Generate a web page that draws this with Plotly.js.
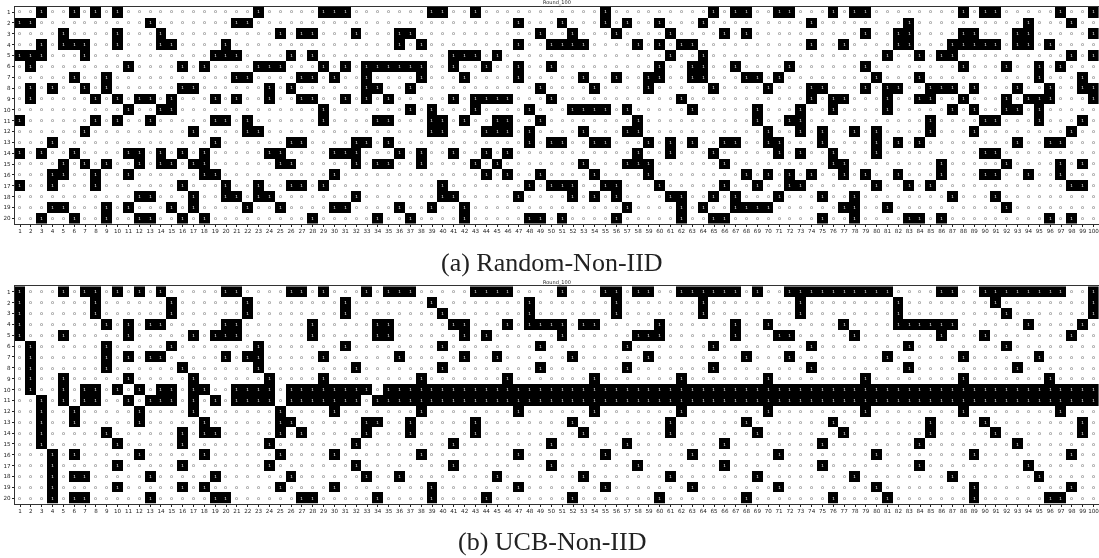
<!DOCTYPE html>
<html>
<head>
<meta charset="utf-8">
<script src="https://cdn.plot.ly/plotly-3.0.1.min.js"></script>
<style>html,body{margin:0;padding:0;background:#fff}#chart{width:1099px;height:558px;filter:blur(0.4px)}</style>
</head>
<body>
<div id="chart"></div>
<script>
// Rounds (columns) in which each client (row) was selected.
const rounds = [1,2,3,4,5,6,7,8,9,10,11,12,13,14,15,16,17,18,19,20,21,22,23,24,25,26,27,28,29,30,31,32,33,34,35,36,37,38,39,40,41,42,43,44,45,46,47,48,49,50,51,52,53,54,55,56,57,58,59,60,61,62,63,64,65,66,67,68,69,70,71,72,73,74,75,76,77,78,79,80,81,82,83,84,85,86,87,88,89,90,91,92,93,94,95,96,97,98,99,100];
const clients = [1,2,3,4,5,6,7,8,9,10,11,12,13,14,15,16,17,18,19,20];

const selectedRandom = [
 [3,6,8,10,23,29,30,31,39,40,43,55,65,67,68,71,72,76,78,79,88,90,91,97,100],
 [1,2,13,21,22,47,51,55,57,60,64,74,83,94,98],
 [5,10,14,25,27,28,32,36,37,49,52,56,61,66,68,79,82,83,88,89,93,94,100],
 [3,5,6,7,10,14,15,20,36,38,47,50,51,52,53,58,60,62,63,74,77,82,83,87,88,89,90,91,93,94,96],
 [1,2,3,7,19,20,21,26,28,41,42,43,45,61,64,81,84,86,87,98,100],
 [2,11,16,18,23,24,25,29,31,33,34,35,36,37,38,41,44,47,50,60,63,64,67,72,79,88,92,95,97],
 [6,9,21,22,27,28,30,33,38,42,47,53,56,59,60,63,64,68,69,71,80,84,95,99],
 [2,4,7,9,16,17,24,26,33,34,37,49,54,59,65,70,74,75,79,81,82,85,86,87,89,93,96,99,100],
 [2,8,10,12,13,15,19,21,24,27,28,31,33,35,41,43,44,45,46,50,62,74,76,77,81,84,85,88,92,94,95,96,100],
 [11,14,15,29,37,39,43,48,52,53,54,55,57,63,69,73,76,81,87,89,92,93,95],
 [1,8,10,13,19,20,22,29,34,35,39,40,42,45,46,49,58,69,72,73,85,90,91,95,99],
 [7,17,22,23,39,40,44,45,46,48,53,57,58,70,73,75,78,80,85,89,98],
 [4,19,26,27,32,33,35,48,50,51,54,55,59,61,63,66,67,70,71,75,80,82,84,93,96,97],
 [1,3,6,11,12,14,16,18,24,25,30,31,32,36,38,41,44,46,58,61,65,71,73,76,80,90,91],
 [5,7,9,12,14,15,17,18,25,26,32,34,35,38,43,45,53,57,58,59,66,76,77,86,92,97,99],
 [4,5,8,11,18,19,30,44,46,49,54,59,68,70,72,74,77,79,82,86,90,91,94,97],
 [1,4,8,16,20,23,26,27,29,40,48,50,51,52,55,56,60,66,69,72,73,80,83,85,98,99],
 [12,13,17,20,21,23,24,32,40,41,47,52,54,56,61,62,65,67,71,75,78,87,91],
 [4,5,9,11,15,17,22,25,30,31,36,39,42,57,62,64,67,68,69,70,77,78,81,92],
 [3,6,9,12,13,16,18,28,34,37,42,48,49,51,56,62,65,66,75,78,83,84,86,96,98]
];

const selectedUCB = [
 [1,5,7,8,10,12,14,20,21,26,27,29,33,35,36,37,43,44,45,46,51,55,56,58,59,62,63,64,65,66,67,69,72,73,74,75,76,77,78,79,80,81,86,87,90,91,92,93,94,95,96,97,100],
 [1,8,15,22,31,39,48,56,64,73,82,91,100],
 [1,8,15,22,31,40,48,56,64,73,82,92,100],
 [1,9,11,13,14,20,21,28,34,35,41,42,46,48,49,50,51,53,54,60,67,70,77,82,83,84,85,86,87,94,99],
 [1,5,11,17,19,20,21,28,34,35,42,44,51,58,59,60,67,71,72,78,86,90,98],
 [2,9,15,23,31,40,49,57,65,74,83,92],
 [2,9,11,13,14,20,22,23,29,36,42,45,52,59,68,72,81,88,95],
 [2,9,16,23,32,40,49,57,65,74,83,93],
 [2,5,11,17,24,29,38,46,54,62,70,79,88,96],
 [2,5,7,8,10,12,14,15,17,18,21,22,23,24,26,27,28,29,30,31,32,33,35,36,37,38,39,40,41,42,43,44,45,46,47,48,49,50,51,52,53,54,55,56,57,58,59,60,61,62,63,64,65,66,67,68,69,70,71,72,73,74,75,76,77,78,79,80,81,82,83,84,85,86,87,88,89,90,91,92,93,94,95,96,97,98,99,100],
 [3,5,7,8,11,13,14,15,17,19,21,22,23,24,26,27,28,29,30,31,32,34,35,36,37,38,39,40,41,42,43,44,45,46,47,48,49,50,51,52,53,54,55,56,57,58,59,60,61,62,63,64,65,66,67,68,69,70,71,72,73,74,75,76,77,78,79,80,81,82,83,84,85,86,87,88,89,90,91,92,93,94,95,96,97,98,99,100],
 [3,6,12,17,25,30,38,47,54,62,70,79,88,97],
 [3,6,12,18,25,26,33,34,37,43,52,61,68,76,85,90,99],
 [3,9,16,18,19,25,27,33,37,43,53,61,69,77,85,91,99],
 [3,10,16,24,32,41,50,57,66,75,84,93],
 [4,6,12,18,25,30,38,47,55,63,71,80,89,98],
 [4,10,16,24,32,41,50,58,66,75,84,94],
 [4,6,7,13,19,26,33,36,45,53,61,69,78,87,95],
 [4,10,16,18,25,30,39,47,55,63,71,80,89,98],
 [4,6,7,13,19,20,27,28,34,39,44,52,60,68,76,81,89,96,97]
];

function toMatrix(selected) {
  return selected.map(row => rounds.map(r => row.includes(r) ? 1 : 0));
}
const W = 1099, H = 558;
function heat(z, xa, ya) {
  return {
    type: 'heatmap', x: rounds, y: clients, z: z, xaxis: xa, yaxis: ya,
    zmin: 0, zmax: 1, showscale: false, hoverinfo: 'skip',
    colorscale: [[0, '#ffffff'], [1, '#000000']],
    texttemplate: '%{z}',
    textfont: {family: 'DejaVu Sans', size: 4}
  };
}
function xAxis(anchor) {
  return {
    anchor: anchor, domain: [14.6 / W, 1], range: [0.5, 100.5],
    tickmode: 'array', tickvals: rounds, ticktext: rounds.map(String),
    tickfont: {family: 'DejaVu Sans', size: 5.6, color: '#222'},
    ticklabeloverflow: 'allow',
    ticks: 'outside', ticklen: 2, tickwidth: 0.6, tickcolor: '#222', tickangle: 0,
    showgrid: false, zeroline: false, showline: true, mirror: true,
    linecolor: '#333', linewidth: 0.8
  };
}
function yAxis(anchor, top, bottom) {
  return {
    anchor: anchor, domain: [1 - bottom / H, 1 - top / H], range: [20.5, 0.5],
    tickmode: 'array', tickvals: clients, ticktext: clients.map(String),
    tickfont: {family: 'DejaVu Sans', size: 5.6, color: '#222'},
    ticklabeloverflow: 'allow',
    ticks: 'outside', ticklen: 2, tickwidth: 0.6, tickcolor: '#222',
    showgrid: false, zeroline: false, showline: true, mirror: true,
    linecolor: '#333', linewidth: 0.8
  };
}
function note(text, x, y, size, family, color) {
  return {text: text, xref: 'paper', yref: 'paper', x: x / W, y: 1 - y / H,
          xanchor: 'center', yanchor: 'middle', showarrow: false,
          font: {family: family, size: size, color: color}};
}
const layout = {
  width: W, height: H, margin: {l: 0, r: 0, t: 0, b: 0},
  paper_bgcolor: '#fff', plot_bgcolor: '#fff', showlegend: false,
  xaxis: xAxis('y'), yaxis: yAxis('x', 6.7, 223.7),
  xaxis2: xAxis('y2'), yaxis2: yAxis('x2', 286.3, 503.7),
  annotations: [
    note('Round_100', 556.7, 3, 5, 'DejaVu Sans', '#222'),
    note('Round_100', 556.7, 282, 5, 'DejaVu Sans', '#222'),
    note('(a) Random-Non-IID', 552, 262, 26, 'Liberation Serif', '#222'),
    note('(b) UCB-Non-IID', 552, 541, 26, 'Liberation Serif', '#222')
  ]
};
Plotly.newPlot('chart', [heat(toMatrix(selectedRandom), 'x', 'y'), heat(toMatrix(selectedUCB), 'x2', 'y2')], layout, {displayModeBar: false, responsive: false});
</script>
</body>
</html>
